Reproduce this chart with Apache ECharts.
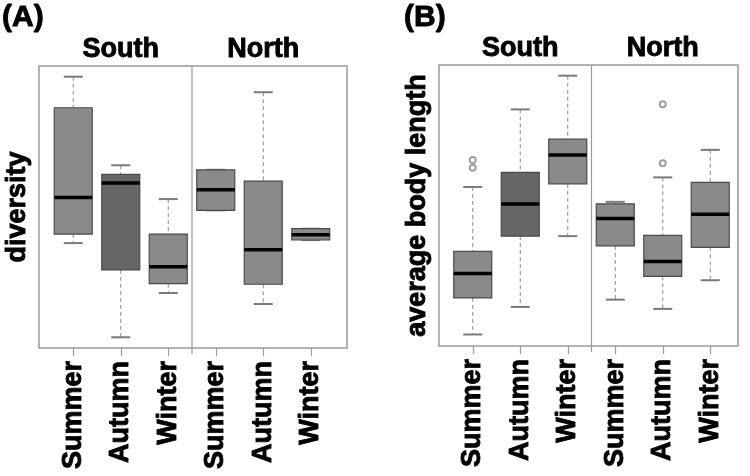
<!DOCTYPE html>
<html>
<head>
<meta charset="utf-8">
<script src="https://cdn.jsdelivr.net/npm/echarts@6/dist/echarts.min.js"></script>
<style>
  html, body { margin: 0; padding: 0; background: #fff; }
  #chart { width: 750px; height: 476px; }
</style>
</head>
<body>
<div id="chart"></div>
<script>
// seasons along x, repeated per region
const categories = ['Summer', 'Autumn', 'Winter', 'Summer', 'Autumn', 'Winter'];
const regions = ['South', 'North'];

// box stats per category: [low whisker, Q1, median, Q3, high whisker]
const diversityBoxes = [
  [37.2, 40.4, 53.4, 85.2, 96.2],
  [3.8, 27.7, 58.5, 61.6, 64.8],
  [19.5, 22.8, 28.8, 40.4, 52.8],
  [48.8, 48.8, 56.1, 63.2, 63.2],
  [15.6, 22.6, 34.8, 59.2, 90.7],
  [38.3, 38.3, 40.2, 42.3, 42.3]
];
const diversityOutliers = [];

const lengthBoxes = [
  [4.1, 17.1, 25.8, 33.7, 56.6],
  [13.9, 39.1, 50.5, 61.8, 84.2],
  [39.1, 57.7, 68.0, 73.6, 96.2],
  [16.5, 35.6, 45.4, 50.6, 51.3],
  [13.2, 24.8, 30.1, 39.4, 60.0],
  [23.4, 35.1, 46.9, 58.2, 69.8]
];
// [category index, value]
const lengthOutliers = [[0, 66.2], [0, 63.4], [4, 65.0], [4, 86.0]];

const FONT = '"Liberation Sans", Arial, sans-serif';
const FILL = '#8a8a8a';
const DARK_FILL = '#666666';
const EDGE = '#4a4a4a';
const FRAME = '#9a9a9a';

// heavier bold text, the original is quite thick
const heavy = { fontFamily: FONT, fontWeight: 'bold', color: '#000',
  textBorderColor: '#000', textBorderWidth: 0.9 };

function boxItem(params, api) {
  const i = api.value(0);
  const low = api.coord([i, api.value(1)]);
  const q1 = api.coord([i, api.value(2)]);
  const med = api.coord([i, api.value(3)]);
  const q3 = api.coord([i, api.value(4)]);
  const high = api.coord([i, api.value(5)]);
  const band = api.size([1, 0])[0];
  const cx = low[0];
  const hw = band * 0.4;
  const cw = band * 0.2;
  const fill = i === 1 ? DARK_FILL : FILL;
  const dash = { stroke: '#8a8a8a', lineWidth: 1, lineDash: [4, 3] };
  const cap = { stroke: '#7a7a7a', lineWidth: 2 };
  const children = [
    { type: 'line', shape: { x1: cx, y1: high[1], x2: cx, y2: q3[1] }, style: dash },
    { type: 'line', shape: { x1: cx, y1: q1[1], x2: cx, y2: low[1] }, style: dash },
    { type: 'line', shape: { x1: cx - cw, y1: high[1], x2: cx + cw, y2: high[1] }, style: cap },
    { type: 'line', shape: { x1: cx - cw, y1: low[1], x2: cx + cw, y2: low[1] }, style: cap },
    { type: 'rect', shape: { x: cx - hw, y: q3[1], width: hw * 2, height: q1[1] - q3[1] },
      style: { fill: fill, stroke: EDGE, lineWidth: 1.2 } },
    { type: 'line', shape: { x1: cx - hw, y1: med[1], x2: cx + hw, y2: med[1] },
      style: { stroke: '#000', lineWidth: 3.5 } }
  ];
  if (params.dataIndex === 3) {
    const cs = params.coordSys;
    const dx = cx - band / 2;
    children.push({ type: 'line',
      shape: { x1: dx, y1: cs.y, x2: dx, y2: cs.y + cs.height + 6 },
      style: { stroke: FRAME, lineWidth: 1.2 } });
  }
  return { type: 'group', children: children };
}

function boxData(boxes) {
  return boxes.map((b, i) => [i].concat(b));
}

function frameAxes(gridIndex, name) {
  return {
    x: { type: 'value', gridIndex: gridIndex, show: false },
    y: {
      type: 'value', gridIndex: gridIndex, min: 0, max: 100,
      axisLine: { show: false }, axisTick: { show: false },
      axisLabel: { show: false }, splitLine: { show: false },
      name: name, nameLocation: 'middle', nameRotate: 90, nameGap: 8,
      nameTextStyle: Object.assign({ fontSize: 27 }, heavy)
    }
  };
}

function innerAxes(gridIndex) {
  return {
    bottom: {
      type: 'category', gridIndex: gridIndex, data: categories,
      axisLine: { show: false },
      axisTick: { show: true, alignWithLabel: true, interval: 0, length: 8,
        lineStyle: { color: FRAME, width: 1.2 } },
      axisLabel: Object.assign({ rotate: 90, interval: 0, margin: 13, fontSize: 27 }, heavy),
      splitLine: { show: false }
    },
    top: {
      type: 'category', gridIndex: gridIndex, data: regions, position: 'top',
      axisLine: { show: false }, axisTick: { show: false },
      axisLabel: Object.assign({ interval: 0, margin: 3, fontSize: 27 }, heavy)
    },
    y: {
      type: 'value', gridIndex: gridIndex, min: 0, max: 100, show: false,
      splitLine: { show: false }
    }
  };
}

const fa = frameAxes(0, 'diversity');
const ia = innerAxes(1);
const fb = frameAxes(2, 'average body length');
const ib = innerAxes(3);

const option = {
  animation: false,
  backgroundColor: '#fff',
  title: [
    { text: '(A)', left: 2, top: 3, padding: 0,
      textStyle: Object.assign({ fontSize: 30 }, heavy) },
    { text: '(B)', left: 404, top: 3, padding: 0,
      textStyle: Object.assign({ fontSize: 30 }, heavy) }
  ],
  grid: [
    { left: 39, top: 66, width: 308, height: 282, show: true, borderColor: FRAME, borderWidth: 1.5 },
    { left: 49.5, top: 66, width: 285, height: 282 },
    { left: 439, top: 65, width: 299, height: 281, show: true, borderColor: FRAME, borderWidth: 1.5 },
    { left: 449, top: 65, width: 285, height: 281 }
  ],
  xAxis: [fa.x, ia.bottom, ia.top, fb.x, ib.bottom, ib.top],
  yAxis: [fa.y, ia.y, fb.y, ib.y],
  series: [
    { type: 'custom', xAxisIndex: 1, yAxisIndex: 1, renderItem: boxItem,
      data: boxData(diversityBoxes), encode: { x: 0, y: [1, 2, 3, 4, 5] } },
    { type: 'scatter', xAxisIndex: 1, yAxisIndex: 1, data: diversityOutliers,
      symbol: 'emptyCircle', symbolSize: 6, itemStyle: { color: '#888', borderWidth: 1 } },
    { type: 'custom', xAxisIndex: 4, yAxisIndex: 3, renderItem: boxItem,
      data: boxData(lengthBoxes), encode: { x: 0, y: [1, 2, 3, 4, 5] } },
    { type: 'scatter', xAxisIndex: 4, yAxisIndex: 3, data: lengthOutliers,
      symbol: 'emptyCircle', symbolSize: 6, itemStyle: { color: '#888', borderWidth: 1 } }
  ]
};

const chart = echarts.init(document.getElementById('chart'), null, { renderer: 'canvas' });
chart.setOption(option);
</script>
</body>
</html>
